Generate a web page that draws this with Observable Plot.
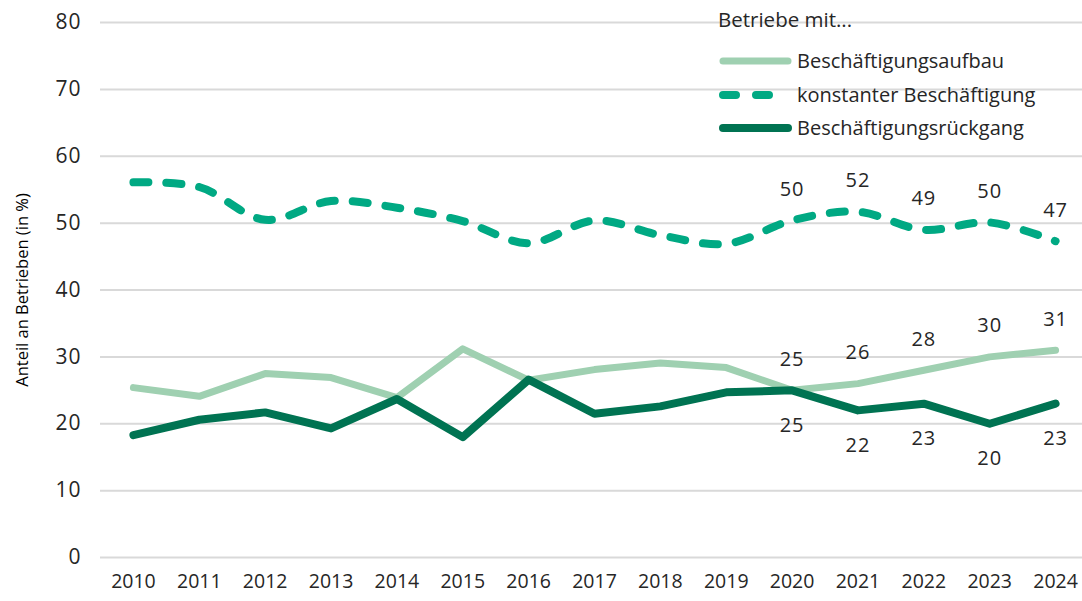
<!DOCTYPE html>
<html>
<head>
<meta charset="utf-8">
<script src="https://cdn.jsdelivr.net/npm/d3@7"></script>
<script src="https://cdn.jsdelivr.net/npm/@observablehq/plot@0.6"></script>
<style>
  html, body { margin: 0; padding: 0; background: #fff; }
  #wrap { position: relative; width: 1082px; height: 601px; font-family: "Open Sans", sans-serif; }
  #legend { position: absolute; left: 0; top: 0; pointer-events: none; }
  .ytk text, .lbl text { letter-spacing: 1px; }
</style>
</head>
<body>
<div id="wrap"></div>
<script>
const years = [2010, 2011, 2012, 2013, 2014, 2015, 2016, 2017, 2018, 2019, 2020, 2021, 2022, 2023, 2024];
const aufbau = [25.4, 24.1, 27.5, 26.9, 23.9, 31.2, 26.5, 28.1, 29.1, 28.4, 25, 26, 28, 30, 31];
const konstant = [56.1, 55.4, 50.5, 53.3, 52.3, 50.3, 47.0, 50.4, 48.2, 46.9, 50.4, 51.7, 49.0, 50.1, 47.3];
const rueckgang = [18.3, 20.6, 21.7, 19.3, 23.7, 18.0, 26.6, 21.5, 22.6, 24.7, 25, 22, 23, 20, 23];
const labelYears = [2020, 2021, 2022, 2023, 2024];
const yTicks = [0, 10, 20, 30, 40, 50, 60, 70, 80];
const seriesNames = ["Beschäftigungsaufbau", "konstanter Beschäftigung", "Beschäftigungsrückgang"];
const legendTitle = "Betriebe mit...";
const yLabel = "Anteil an Betrieben (in %)";

const colors = {aufbau: "#9fd0b1", konstant: "#00a983", rueckgang: "#007352"};

const rows = (vals) => years.map((yr, i) => ({year: yr, value: vals[i]}));
const dA = rows(aufbau), dK = rows(konstant), dR = rows(rueckgang);
const lab = (d) => d.filter(r => labelYears.includes(r.year));

const chart = Plot.plot({
  width: 1082,
  height: 601,
  marginTop: 22,
  marginBottom: 44,
  marginLeft: 100,
  marginRight: 0,
  style: {fontFamily: "'Open Sans', sans-serif", color: "#262626", background: "transparent"},
  x: {type: "linear", domain: [2009.5, 2024.5], range: [100, 1088]},
  y: {domain: [0, 80]},
  marks: [
    Plot.ruleY(yTicks, {stroke: "#d9d9d9", strokeWidth: 2}),
    Plot.axisY({ticks: yTicks, tickSize: 0, tickPadding: 19, fontSize: 21, label: null, className: "ytk"}),
    Plot.axisX({ticks: years, tickFormat: d => String(d), tickSize: 0, tickPadding: 17, fontSize: 19.5, label: null}),
    Plot.text([yLabel], {frameAnchor: "left", rotate: -90, dx: -78, textAnchor: "middle", fontSize: 16.5, fill: "#000"}),
    Plot.lineY(dA, {x: "year", y: "value", stroke: colors.aufbau, strokeWidth: 7, strokeLinecap: "round", strokeLinejoin: "round"}),
    Plot.lineY(dK, {x: "year", y: "value", stroke: colors.konstant, strokeWidth: 8, strokeLinecap: "round", strokeLinejoin: "round", strokeDasharray: "15,18", curve: "catmull-rom"}),
    Plot.lineY(dR, {x: "year", y: "value", stroke: colors.rueckgang, strokeWidth: 8, strokeLinecap: "round", strokeLinejoin: "round"}),
    Plot.text(lab(dK), {x: "year", y: "value", text: d => String(Math.round(d.value)), dy: -31, fontSize: 20, fill: "#262626", className: "lbl"}),
    Plot.text(lab(dA), {x: "year", y: "value", text: d => String(Math.round(d.value)), dy: -31, fontSize: 20, fill: "#262626", className: "lbl"}),
    Plot.text(lab(dR), {x: "year", y: "value", text: d => String(Math.round(d.value)), dy: 35, fontSize: 20, fill: "#262626", className: "lbl"})
  ]
});

const wrap = document.getElementById("wrap");
wrap.appendChild(chart);

// Legend overlay
const ns = "http://www.w3.org/2000/svg";
const lg = document.createElementNS(ns, "svg");
lg.setAttribute("id", "legend");
lg.setAttribute("width", 1082);
lg.setAttribute("height", 160);
const title = document.createElementNS(ns, "text");
title.setAttribute("x", 718);
title.setAttribute("y", 20);
title.setAttribute("dy", "0.35em");
title.setAttribute("font-size", 20.5);
title.setAttribute("fill", "#262626");
title.setAttribute("font-family", "'Open Sans', sans-serif");
title.textContent = legendTitle;
lg.appendChild(title);
const entries = [
  {name: seriesNames[0], color: colors.aufbau, w: 7, dash: null, y: 61},
  {name: seriesNames[1], color: colors.konstant, w: 8, dash: "15,18", y: 95},
  {name: seriesNames[2], color: colors.rueckgang, w: 8, dash: null, y: 128}
];
for (const e of entries) {
  const ln = document.createElementNS(ns, "line");
  ln.setAttribute("x1", 723); ln.setAttribute("x2", 788);
  ln.setAttribute("y1", e.y); ln.setAttribute("y2", e.y);
  ln.setAttribute("stroke", e.color);
  ln.setAttribute("stroke-width", e.w);
  ln.setAttribute("stroke-linecap", "round");
  if (e.dash) ln.setAttribute("stroke-dasharray", "13,20");
  lg.appendChild(ln);
  const t = document.createElementNS(ns, "text");
  t.setAttribute("x", 797);
  t.setAttribute("y", e.y);
  t.setAttribute("dy", "0.35em");
  t.setAttribute("font-size", 20);
  t.setAttribute("fill", "#262626");
  t.setAttribute("font-family", "'Open Sans', sans-serif");
  t.textContent = e.name;
  lg.appendChild(t);
}
wrap.appendChild(lg);
</script>
</body>
</html>
